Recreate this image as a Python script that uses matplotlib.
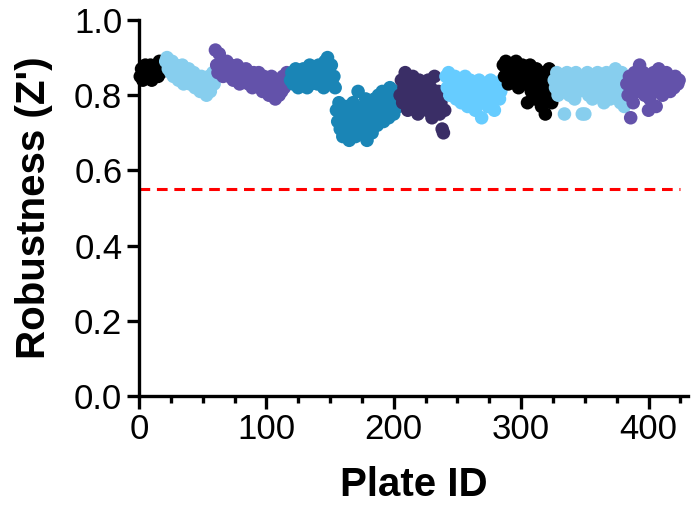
import matplotlib
matplotlib.use("Agg")
import matplotlib.pyplot as plt
import numpy as np
from matplotlib.ticker import MultipleLocator, FormatStrFormatter

plt.rcParams['font.family'] = ['Liberation Sans', 'DejaVu Sans']

# group start plate IDs and Z' values (consecutive plates)
g1_start = 1
g1_vals = [0.85,0.87,0.84,0.86,0.88,0.85,0.87,0.86,0.88,0.84,0.87,0.86,0.88,0.87,0.85,0.89,0.86,0.88,0.87,0.89]
g2_start = 21
g2_vals = [0.89,0.90,0.87,0.88,0.86,0.89,0.85,0.87,0.88,0.86,
           0.84,0.87,0.85,0.88,0.83,0.86,0.84,0.85,0.87,0.83,
           0.85,0.84,0.86,0.82,0.85,0.83,0.84,0.81,0.85,0.83,
           0.82,0.84,0.80,0.83,0.85,0.81,0.84,0.86,0.83]
g3_start = 60
g3_vals = [0.92,0.88,0.86,0.91,0.87,0.89,0.85,0.88,0.86,0.89,
           0.87,0.85,0.88,0.86,0.84,0.87,0.85,0.88,0.86,0.83,
           0.87,0.85,0.86,0.84,0.87,0.85,0.83,0.86,0.84,0.82,
           0.86,0.84,0.85,0.83,0.86,0.82,0.84,0.81,0.85,0.83,
           0.84,0.82,0.80,0.83,0.85,0.81,0.83,0.79,0.82,0.84,
           0.80,0.83,0.81,0.85,0.82,0.84,0.86,0.83,0.85]
g4_start = 119
g4_vals = [0.84,0.86,0.83,0.85,0.87,0.84,0.82,0.86,0.85,0.83,
           0.87,0.84,0.86,0.82,0.85,0.88,0.83,0.86,0.84,0.87,
           0.85,0.83,0.88,0.86,0.84,0.87,0.82,0.89,0.85,0.90,
           0.86,0.84,0.88,0.83,0.85,0.82,
           0.76,0.73,0.78,0.71,0.75,0.69,0.74,0.77,0.70,0.72,
           0.68,0.75,0.71,0.78,0.73,0.69,0.76,0.81,0.72,0.70,
           0.74,0.77,0.71,0.79,0.68,0.75,0.73,0.78,0.70,0.76,
           0.79,0.74,0.72,0.80,0.77,0.75,0.81,0.73,0.78,0.76,
           0.80,0.74,0.82,0.77,0.79,0.75,0.81,0.78,0.80,0.77]
g5_start = 205
g5_vals = [0.80,0.84,0.78,0.82,0.86,0.79,0.76,0.83,0.81,0.77,
           0.85,0.80,0.78,0.82,0.75,0.84,0.79,0.81,0.77,0.83,
           0.80,0.76,0.84,0.78,0.82,0.74,0.80,0.85,0.77,0.79,
           0.81,0.75,0.78,0.71,0.70,0.76]
g6_start = 241
g6_vals = [0.85,0.82,0.86,0.80,0.83,0.84,0.81,0.85,0.79,0.83,
           0.82,0.84,0.78,0.83,0.81,0.85,0.80,0.77,0.82,0.84,
           0.79,0.83,0.81,0.76,0.82,0.80,0.84,0.78,0.74,0.81,
           0.83,0.79,0.82,0.77,0.80,0.84,0.78,0.81,0.76,0.82,
           0.80,0.83,0.79,0.81,0.84]
g7_start = 286
g7_vals = [0.88,0.85,0.89,0.86,0.83,0.87,0.85,0.88,0.84,0.86,
           0.89,0.85,0.82,0.87,0.84,0.88,0.86,0.83,0.87,0.78,
           0.85,0.88,0.81,0.86,0.84,0.79,0.87,0.82,0.85,0.80,
           0.77,0.84,0.86,0.75,0.82,0.79,0.87,0.83,0.78,0.86]
g8_start = 326
g8_vals = [0.84,0.82,0.86,0.80,0.83,0.85,0.81,0.84,0.75,0.82,
           0.86,0.83,0.80,0.85,0.82,0.84,0.79,0.86,0.83,0.81,
           0.85,0.82,0.75,0.84,0.75,0.83,0.86,0.80,0.84,0.82,
           0.79,0.85,0.83,0.81,0.86,0.80,0.84,0.82,0.85,0.78,
           0.83,0.86,0.81,0.84,0.79,0.82,0.85,0.80,0.87,0.83,
           0.81,0.84,0.78,0.86,0.82,0.77,0.80]
g9_start = 383
g9_vals = [0.83,0.80,0.85,0.74,0.82,0.78,0.86,0.84,0.81,0.83,
           0.88,0.85,0.82,0.86,0.80,0.84,0.83,0.76,0.79,0.85,
           0.82,0.86,0.84,0.77,0.81,0.87,0.83,0.85,0.80,0.84,
           0.82,0.86,0.83,0.85,0.81,0.84,0.83,0.82,0.85,0.84,
           0.83,0.84]

groups = [
    (g1_start, g1_vals, '#000000'),
    (g2_start, g2_vals, '#87CEEE'),
    (g3_start, g3_vals, '#6352AA'),
    (g4_start, g4_vals, '#1A85B6'),
    (g5_start, g5_vals, '#3A2E66'),
    (g6_start, g6_vals, '#66CCFF'),
    (g7_start, g7_vals, '#000000'),
    (g8_start, g8_vals, '#87CEEE'),
    (g9_start, g9_vals, '#6352AA'),
]
threshold = 0.55

fig = plt.figure(figsize=(6.92, 5.09), dpi=100)
ax = fig.add_axes([139/692, 113/509, (688-139)/692, 376/509])

for start, vals, col in groups:
    x = np.arange(start, start + len(vals))
    ax.scatter(x, vals, s=95, color=col, edgecolors='none', clip_on=False, zorder=3)

ax.axhline(threshold, color='#FF0000', lw=2.2, ls=(0, (3.5, 2.2)), xmax=(680-139)/(688-139), zorder=2)

ax.set_xlim(0, 431)
ax.set_ylim(0, 1.0)
ax.xaxis.set_major_locator(MultipleLocator(100))
ax.xaxis.set_minor_locator(MultipleLocator(25))
ax.yaxis.set_major_locator(MultipleLocator(0.2))
ax.yaxis.set_major_formatter(FormatStrFormatter('%.1f'))

for s in ['top', 'right']:
    ax.spines[s].set_visible(False)
for s in ['left', 'bottom']:
    ax.spines[s].set_linewidth(2.4)

ax.tick_params(axis='both', which='major', width=2.4, length=9, labelsize=25, pad=3)
ax.tick_params(axis='x', which='minor', width=2.4, length=5)

ax.set_xlabel('Plate ID', fontsize=29, fontweight='bold', labelpad=15)
ax.set_ylabel("Robustness (Z')", fontsize=29, fontweight='bold', labelpad=15)

fig.savefig('out.png', dpi=100)
